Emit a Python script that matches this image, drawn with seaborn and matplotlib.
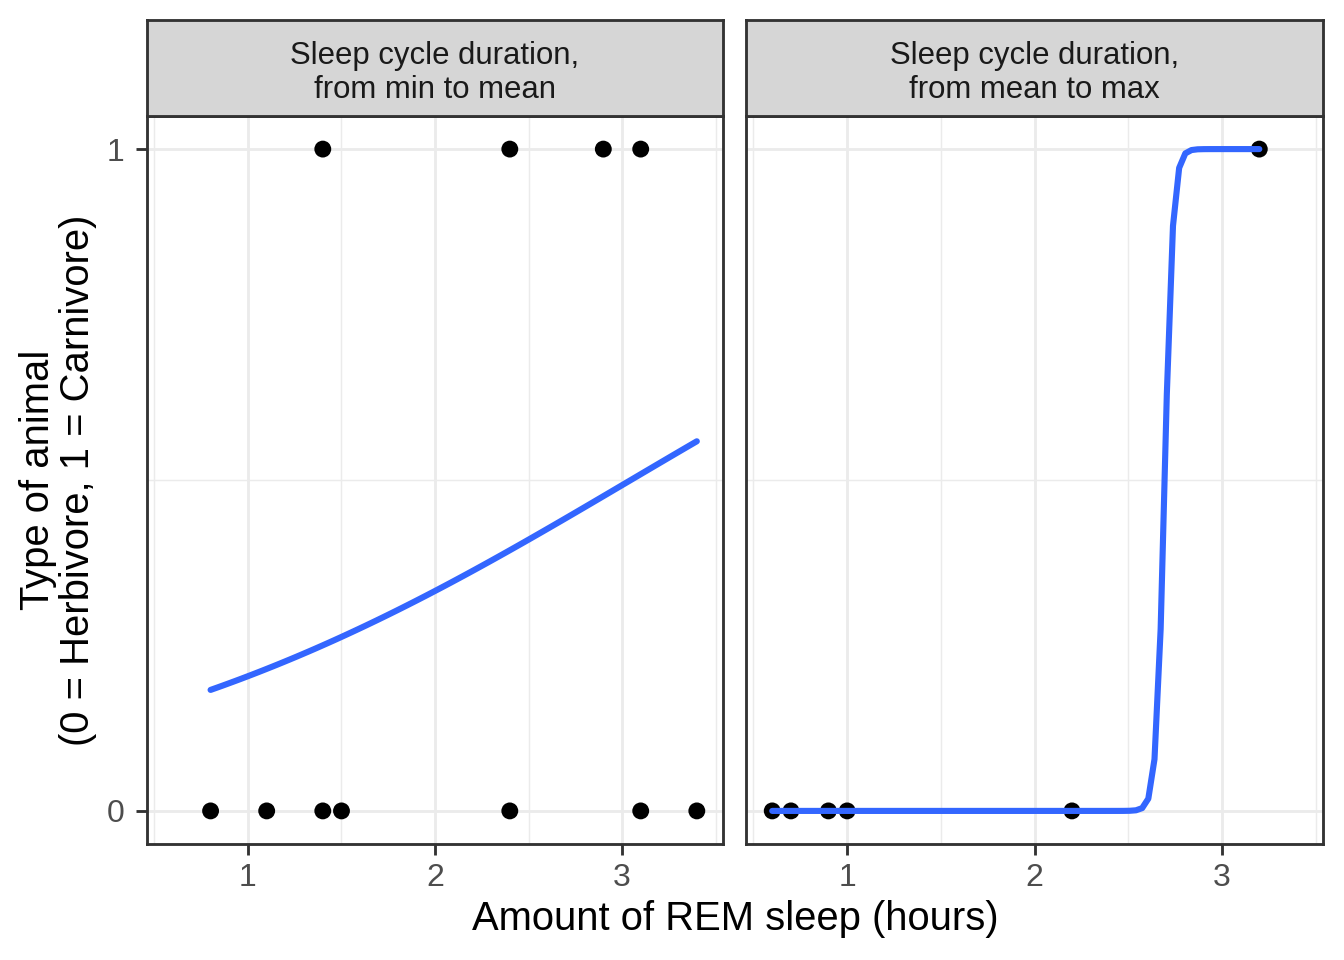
import numpy as np
import pandas as pd
import matplotlib
matplotlib.use("Agg")
import matplotlib.pyplot as plt
import seaborn as sns
from matplotlib.ticker import FixedLocator

# ---- data ----
facet_labels = ["Sleep cycle duration,\nfrom min to mean",
                "Sleep cycle duration,\nfrom mean to max"]
left_rem = [0.8, 1.1, 1.4, 1.5, 2.4, 3.1, 3.4, 1.4, 2.4, 2.9, 3.1]
left_type = [0, 0, 0, 0, 0, 0, 0, 1, 1, 1, 1]
right_rem = [0.6, 0.7, 0.9, 1.0, 2.2, 3.2]
right_type = [0, 0, 0, 0, 0, 1]
x_ticks = [1, 2, 3]
y_ticks = [0, 1]
x_label = "Amount of REM sleep (hours)"
y_label = "Type of animal\n(0 = Herbivore, 1 = Carnivore)"


def glm_logit(x, y, maxit=25, eps=1e-8):
    x = np.asarray(x, float)
    y = np.asarray(y, float)
    X = np.column_stack([np.ones_like(x), x])
    mu = (y + 0.5) / 2.0
    eta = np.log(mu / (1 - mu))
    devold = np.inf
    beta = np.zeros(2)
    thresh = 36.04365
    for _ in range(maxit):
        w = mu * (1 - mu)
        z = eta + (y - mu) / w
        Wm = np.diag(w)
        beta = np.linalg.solve(X.T @ Wm @ X, X.T @ Wm @ z)
        eta = np.clip(X @ beta, -thresh, thresh)
        mu = 1 / (1 + np.exp(-eta))
        mu = np.clip(mu, 2.22e-16, 1 - 2.22e-16)
        dev = -2 * np.sum(y * np.log(mu) + (1 - y) * np.log(1 - mu))
        if np.abs(dev - devold) / (np.abs(dev) + 0.1) < eps:
            break
        devold = dev
    return beta


sns.set_theme(style="white")
plt.rcParams['font.family'] = ['Liberation Sans', 'DejaVu Sans']

fig = plt.figure(figsize=(7, 5), dpi=192)
W, H = 1344, 960
panels = [(147, 723), (746, 1323)]
top, bottom = 116, 844
strip_top = 20

grey92 = "#EBEBEB"
grey20 = "#333333"
datasets = [(left_rem, left_type), (right_rem, right_type)]
allx = left_rem + right_rem
xmin, xmax = min(allx), max(allx)
xr = xmax - xmin
xlim = (xmin - 0.05 * xr, xmax + 0.05 * xr)
ylim = (-0.05, 1.05)

for i, ((l, r), (xs, ys)) in enumerate(zip(panels, datasets)):
    ax = fig.add_axes([l / W, 1 - bottom / H, (r - l) / W, (bottom - top) / H])
    ax.set_xlim(*xlim)
    ax.set_ylim(*ylim)
    ax.set_facecolor("white")
    ax.xaxis.set_major_locator(FixedLocator(x_ticks))
    ax.xaxis.set_minor_locator(FixedLocator([0.5, 1.5, 2.5, 3.5]))
    ax.yaxis.set_major_locator(FixedLocator(y_ticks))
    ax.yaxis.set_minor_locator(FixedLocator([0.5]))
    ax.grid(True, which="major", color=grey92, linewidth=1.07)
    ax.grid(True, which="minor", color=grey92, linewidth=0.53)
    ax.set_axisbelow(True)
    for s in ax.spines.values():
        s.set_color(grey20)
        s.set_linewidth(1.07)
    ax.tick_params(axis="both", which="major", length=4.0, width=1.07,
                   color=grey20, labelcolor="#4D4D4D", labelsize=12,
                   bottom=True, left=(i == 0))
    ax.tick_params(axis="x", which="major", pad=3.0)
    ax.tick_params(axis="y", which="major", pad=4.3)
    ax.tick_params(axis="both", which="minor", length=0)
    if i > 0:
        ax.set_yticklabels([])
    df = pd.DataFrame({"rem": xs, "type": ys})
    beta = glm_logit(xs, ys)
    grid_x = np.linspace(min(xs), max(xs), 80)
    pred = 1 / (1 + np.exp(-(beta[0] + beta[1] * grid_x)))
    cdf = pd.DataFrame({"rem": grid_x, "p": pred})
    sns.scatterplot(data=df, x="rem", y="type", ax=ax, color="black", s=40,
                    edgecolor="none", zorder=3)
    sns.lineplot(data=cdf, x="rem", y="p", ax=ax, color="#3366FF",
                 linewidth=2.3, zorder=4)
    ax.set_xlabel("")
    ax.set_ylabel("")
    # strip
    sax = fig.add_axes([l / W, 1 - top / H, (r - l) / W, (top - strip_top) / H])
    sax.set_xticks([])
    sax.set_yticks([])
    sax.set_facecolor("#D6D6D6")
    for s in sax.spines.values():
        s.set_color(grey20)
        s.set_linewidth(1.07)
    sax.text(0.5, 0.45, facet_labels[i], ha="center", va="center",
             fontsize=11.7, color="#1A1A1A", transform=sax.transAxes,
             linespacing=1.17)

fig.text((147 + 1323) / 2 / W, 1 - 919 / H, x_label, ha="center", va="center",
         fontsize=15, color="black")
fig.text(58 / W, 1 - 480 / H, y_label, ha="center", va="center",
         fontsize=15, color="black", rotation=90, linespacing=1.08)

fig.savefig("out.png", dpi=192, facecolor="white")
